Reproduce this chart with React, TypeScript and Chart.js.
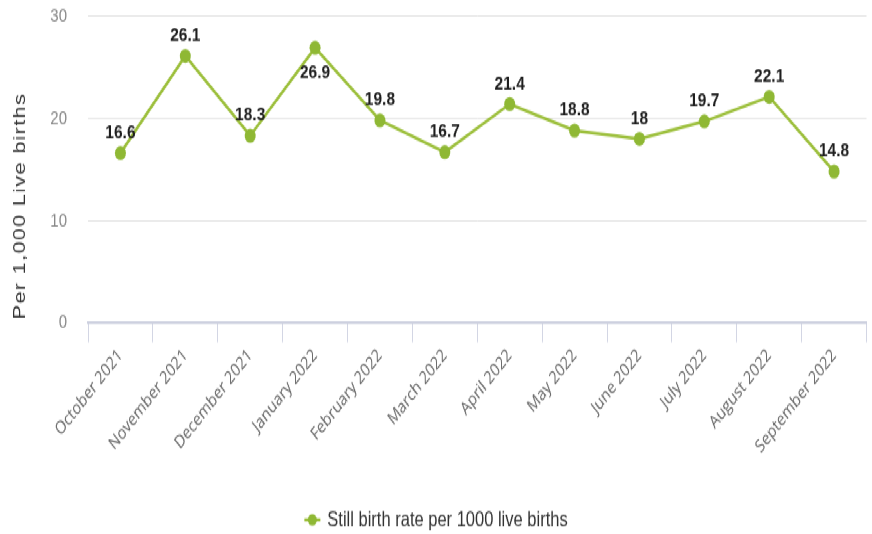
import React, { useEffect, useRef } from "react";
import { Chart, registerables } from "chart.js";

Chart.register(...registerables);

const categories = [
  "October 2021",
  "November 2021",
  "December 2021",
  "January 2022",
  "February 2022",
  "March 2022",
  "April 2022",
  "May 2022",
  "June 2022",
  "July 2022",
  "August 2022",
  "September 2022",
];
const stillBirthRate = [16.6, 26.1, 18.3, 26.9, 19.8, 16.7, 21.4, 18.8, 18, 19.7, 22.1, 14.8];
const yTickValues = [0, 10, 20, 30];
const seriesName = "Still birth rate per 1000 live births";
const yAxisTitle = "Per 1,000 Live births";
const labelsBelow = ["January 2022"];

const WIDTH = 872;
const STRETCH = 1.2806;
const HEIGHT = 417;
const LINE_COLOR = "#9cbf3b";
const POINT_COLOR = "#8fb834";

const valueLabelPlugin = {
  id: "valueLabels",
  afterDatasetsDraw(chart: any) {
    const ctx = chart.ctx;
    const meta = chart.getDatasetMeta(0);
    ctx.save();
    ctx.font = "bold 15.5px 'Liberation Sans', Arial, sans-serif";
    ctx.fillStyle = "#1e1e1e";
    ctx.textAlign = "center";
    ctx.textBaseline = "middle";
    meta.data.forEach((pt: any, i: number) => {
      const below = labelsBelow.includes(categories[i]);
      ctx.fillText(String(stillBirthRate[i]), pt.x, pt.y + (below ? 19 : -16));
    });
    ctx.restore();
  },
};

const yTitlePlugin = {
  id: "yTitle",
  afterDraw(chart: any) {
    const ctx = chart.ctx;
    ctx.save();
    ctx.translate(20, 161);
    ctx.rotate(-Math.PI / 2);
    ctx.font = "17px 'Liberation Sans', Arial, sans-serif";
    (ctx as any).letterSpacing = "1px";
    ctx.fillStyle = "#333333";
    ctx.textAlign = "center";
    ctx.textBaseline = "middle";
    ctx.fillText(yAxisTitle, 0, 0);
    ctx.restore();
  },
};

const legendPlugin = {
  id: "customLegend",
  afterDraw(chart: any) {
    const ctx = chart.ctx;
    const ds = chart.data.datasets[0];
    ctx.save();
    ctx.font = "16.5px 'Liberation Sans', Arial, sans-serif";
    const textW = ctx.measureText(ds.label).width;
    const markerW = 16;
    const gap = 7;
    const total = markerW + gap + textW;
    const left = WIDTH / 2 - total / 2;
    const cy = 406;
    ctx.strokeStyle = ds.borderColor;
    ctx.lineWidth = 2.5;
    ctx.beginPath();
    ctx.moveTo(left, cy);
    ctx.lineTo(left + markerW, cy);
    ctx.stroke();
    ctx.fillStyle = ds.pointBackgroundColor;
    ctx.beginPath();
    ctx.arc(left + markerW / 2, cy, 4.5, 0, Math.PI * 2);
    ctx.fill();
    ctx.fillStyle = "#333333";
    ctx.textAlign = "left";
    ctx.textBaseline = "middle";
    ctx.fillText(ds.label, left + markerW + gap, cy);
    ctx.restore();
  },
};

export default function App() {
  const canvasRef = useRef<HTMLCanvasElement | null>(null);

  useEffect(() => {
    document.body.style.margin = "0";
    const canvas = canvasRef.current;
    if (!canvas) return;
    const chart = new Chart(canvas, {
      type: "line",
      data: {
        labels: categories,
        datasets: [
          {
            label: seriesName,
            data: stillBirthRate,
            borderColor: LINE_COLOR,
            backgroundColor: POINT_COLOR,
            borderWidth: 2.5,
            pointRadius: 5.5,
            pointBackgroundColor: POINT_COLOR,
            pointBorderWidth: 0,
            tension: 0,
          },
        ],
      },
      options: {
        responsive: false,
        animation: false,
        devicePixelRatio: 1,
        layout: { padding: { top: 12.5, right: 4, left: 0, bottom: 0 } },
        plugins: {
          legend: { display: false },
          tooltip: { enabled: false },
        },
        scales: {
          x: {
            offset: true,
            grid: {
              display: true,
              offset: true,
              drawOnChartArea: false,
              drawTicks: true,
              tickLength: 15,
              color: "#d3d6e4",
            },
            border: { display: true, color: "#cdd0df", width: 2 },
            ticks: {
              maxRotation: 45,
              minRotation: 45,
              padding: 2,
              color: "#666666",
              font: { family: "'Open Sans', Arial, sans-serif", size: 14 },
            },
            afterFit(scale: any) {
              scale.height = 164.7;
            },
          },
          y: {
            min: 0,
            max: 30,
            grid: {
              color: "#e4e4e4",
              drawTicks: true,
              tickLength: 19,
              tickColor: "rgba(0,0,0,0)",
            },
            border: { display: false },
            ticks: {
              padding: 2,
              color: "#888888",
              font: { family: "'Liberation Sans', Arial, sans-serif", size: 15 },
            },
            afterBuildTicks(scale: any) {
              scale.ticks = yTickValues.map((v) => ({ value: v }));
            },
            afterFit(scale: any) {
              scale.width = 88;
            },
          },
        },
      },
      plugins: [valueLabelPlugin, yTitlePlugin, legendPlugin],
    });
    return () => chart.destroy();
  }, []);

  return (
    <div
      style={{
        position: "absolute",
        left: 0,
        top: 0,
        width: WIDTH,
        height: HEIGHT,
        transform: `scaleY(${STRETCH})`,
        transformOrigin: "0 0",
        background: "#ffffff",
      }}
    >
      <canvas ref={canvasRef} width={WIDTH} height={HEIGHT} />
    </div>
  );
}
